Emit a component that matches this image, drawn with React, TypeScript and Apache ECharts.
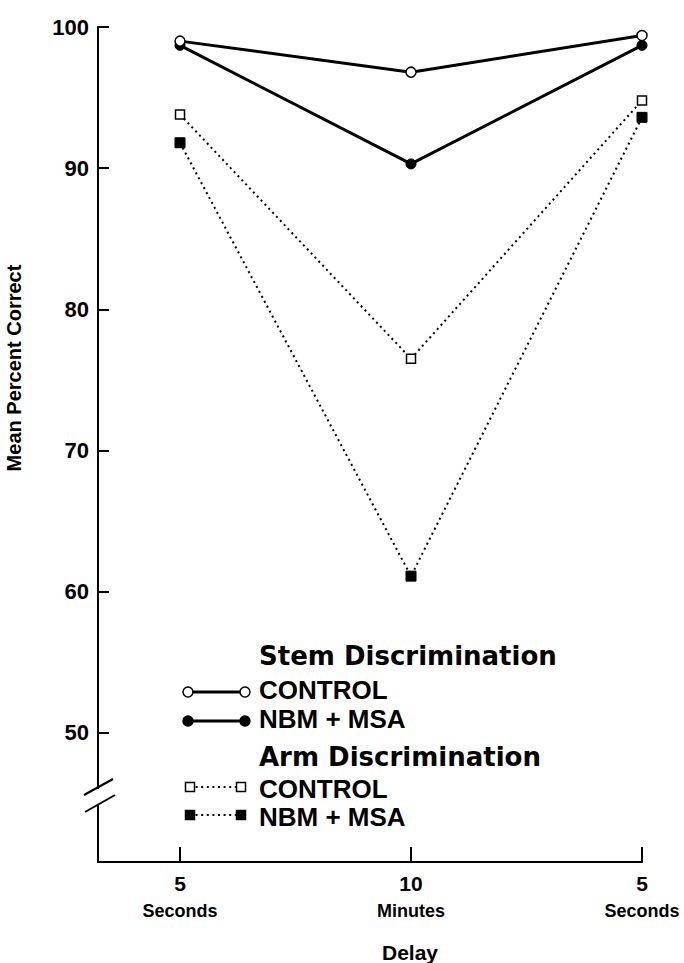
import React, { useEffect, useRef } from "react";
import * as echarts from "echarts";

const xPositions = [0, 1, 2];
const xTopLabels = ["5", "10", "5"];
const xBottomLabels = ["Seconds", "Minutes", "Seconds"];
const yTicks = [50, 60, 70, 80, 90, 100];

const stemControl = [99.0, 96.8, 99.4];
const stemNbm = [98.7, 90.3, 98.7];
const armControl = [93.8, 76.5, 94.8];
const armNbm = [91.8, 61.1, 93.6];

const legendHeadings = ["Stem Discrimination", "Arm Discrimination"];
const legendLabels = ["CONTROL", "NBM + MSA"];

const FONT = "Liberation Sans, Arial, Helvetica, sans-serif";
const HEAVY = "DejaVu Sans, Liberation Sans, sans-serif";

function pts(vals: number[]) {
  return xPositions.map((x, i) => [x, vals[i]]);
}

export default function App() {
  const ref = useRef<HTMLDivElement>(null);
  useEffect(() => {
    document.body.style.margin = "0";
    if (!ref.current) return;
    const chart = echarts.init(ref.current, undefined, { renderer: "svg" });
    const solid = { color: "#000", width: 3, type: "solid" as const };
    const dotted = { color: "#000", width: 2, type: [2, 3.6] as any };
    const legendText = (text: string, y: number, heavy: boolean) => ({
      type: "text",
      x: 259,
      y,
      z: 100,
      style: {
        text,
        fill: "#000",
        font: heavy ? `bold 26px ${HEAVY}` : `bold 26px ${FONT}`,
        verticalAlign: "middle",
        align: "left",
      },
    });
    const legendSym = (y: number, x1: number, x2: number, kind: string) => {
      const items: any[] = [];
      const isDot = kind.startsWith("sq");
      items.push({
        type: "line",
        z: 100,
        shape: { x1, y1: y, x2, y2: y },
        style: isDot
          ? { stroke: "#000", lineWidth: 2, lineDash: [2, 3.6] }
          : { stroke: "#000", lineWidth: 3 },
      });
      [x1, x2].forEach((cx) => {
        if (kind === "circOpen" || kind === "circFill") {
          items.push({
            type: "circle",
            z: 101,
            shape: { cx, cy: y, r: 5 },
            style: {
              fill: kind === "circOpen" ? "#fff" : "#000",
              stroke: "#000",
              lineWidth: 1.5,
            },
          });
        } else {
          items.push({
            type: "rect",
            z: 101,
            shape: { x: cx - 4.5, y: y - 4.5, width: 9, height: 9 },
            style: {
              fill: kind === "sqOpen" ? "#fff" : "#000",
              stroke: "#000",
              lineWidth: 1.5,
            },
          });
        }
      });
      return items;
    };

    chart.setOption({
      animation: false,
      backgroundColor: "#fff",
      grid: { left: 98, right: 42, top: 27, bottom: 101, containLabel: false },
      xAxis: {
        type: "value",
        min: -0.355,
        max: 2,
        splitLine: { show: false },
        axisLine: { show: true, onZero: false, lineStyle: { color: "#000", width: 2 } },
        axisTick: {
          show: true,
          inside: true,
          length: 15,
          customValues: xPositions,
          lineStyle: { color: "#000", width: 2 },
        },
        axisLabel: {
          show: true,
          customValues: xPositions,
          margin: 7,
          formatter: (v: number) => {
            const i = Math.round(v);
            return `{a|${xTopLabels[i]}}\n{b|${xBottomLabels[i]}}`;
          },
          rich: {
            a: { fontSize: 21, fontWeight: "bold", fontFamily: FONT, color: "#000", lineHeight: 28, align: "center" },
            b: { fontSize: 18, fontWeight: "bold", fontFamily: FONT, color: "#000", lineHeight: 28, align: "center" },
          },
        },
      },
      yAxis: {
        type: "value",
        min: 40.85,
        max: 100,
        splitLine: { show: false },
        axisLine: { show: true, onZero: false, lineStyle: { color: "#000", width: 2 } },
        axisTick: {
          show: true,
          inside: true,
          length: 11,
          customValues: yTicks,
          lineStyle: { color: "#000", width: 2 },
        },
        axisLabel: {
          show: true,
          customValues: yTicks,
          margin: 9,
          fontSize: 22,
          fontWeight: "bold",
          fontFamily: FONT,
          color: "#000",
        },
      },
      series: [
        {
          name: "Stem CONTROL",
          type: "line",
          data: pts(stemControl),
          symbol: "circle",
          symbolSize: 10,
          lineStyle: solid,
          itemStyle: { color: "#fff", borderColor: "#000", borderWidth: 1.5 },
          z: 5,
        },
        {
          name: "Stem NBM + MSA",
          type: "line",
          data: pts(stemNbm),
          symbol: "circle",
          symbolSize: 10,
          lineStyle: solid,
          itemStyle: { color: "#000", borderColor: "#000", borderWidth: 1 },
          z: 4,
        },
        {
          name: "Arm CONTROL",
          type: "line",
          data: pts(armControl),
          symbol: "rect",
          symbolSize: 9,
          lineStyle: dotted,
          itemStyle: { color: "#fff", borderColor: "#000", borderWidth: 1.5 },
          z: 3,
        },
        {
          name: "Arm NBM + MSA",
          type: "line",
          data: pts(armNbm),
          symbol: "rect",
          symbolSize: 10,
          lineStyle: dotted,
          itemStyle: { color: "#000", borderColor: "#000", borderWidth: 1 },
          z: 2,
        },
      ],
      graphic: [
        {
          type: "text",
          x: 14,
          y: 368,
          rotation: Math.PI / 2,
          z: 100,
          style: {
            text: "Mean Percent Correct",
            fill: "#000",
            font: `bold 20px ${FONT}`,
            align: "center",
            verticalAlign: "middle",
          },
        },
        {
          type: "text",
          x: 410,
          y: 952,
          z: 100,
          style: {
            text: "Delay",
            fill: "#000",
            font: `bold 21px ${FONT}`,
            align: "center",
            verticalAlign: "middle",
          },
        },
        // axis break
        {
          type: "rect",
          z: 100,
          shape: { x: 95, y: 789, width: 6, height: 15 },
          style: { fill: "#fff" },
        },
        {
          type: "line",
          z: 101,
          shape: { x1: 84, y1: 795, x2: 113, y2: 779 },
          style: { stroke: "#000", lineWidth: 2 },
        },
        {
          type: "line",
          z: 101,
          shape: { x1: 85, y1: 812, x2: 115, y2: 795 },
          style: { stroke: "#000", lineWidth: 2 },
        },
        // legend
        legendText(legendHeadings[0], 656, true),
        ...legendSym(692, 188, 245, "circOpen"),
        legendText(legendLabels[0], 690, false),
        ...legendSym(721, 188, 245, "circFill"),
        legendText(legendLabels[1], 719, false),
        legendText(legendHeadings[1], 757, true),
        ...legendSym(787, 190, 241, "sqOpen"),
        legendText(legendLabels[0], 789, false),
        ...legendSym(815, 190, 241, "sqFill"),
        legendText(legendLabels[1], 817, false),
      ],
    });
    return () => chart.dispose();
  }, []);
  return <div ref={ref} style={{ width: 684, height: 963 }} />;
}
